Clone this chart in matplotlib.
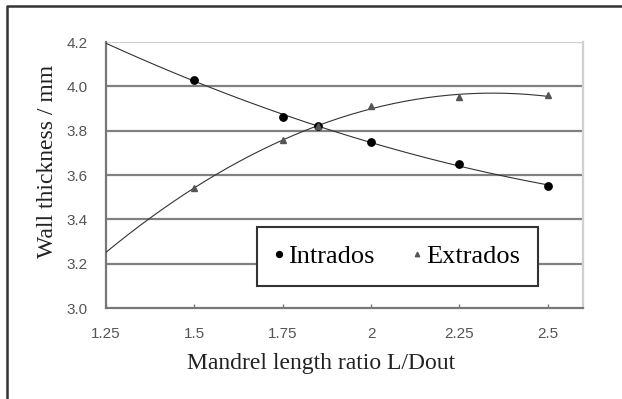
import numpy as np
import matplotlib.pyplot as plt
from matplotlib.lines import Line2D

# measured wall thickness vs mandrel length ratio
ratio = [1.5, 1.75, 1.85, 2.0, 2.25, 2.5]
intrados = [4.03, 3.86, 3.82, 3.75, 3.65, 3.55]
extrados = [3.54, 3.76, 3.82, 3.91, 3.95, 3.96]

x_ticks = [1.25, 1.5, 1.75, 2.0, 2.25, 2.5]
x_ticklabels = ["1.25", "1.5", "1.75", "2", "2.25", "2.5"]
y_ticks = [3.0, 3.2, 3.4, 3.6, 3.8, 4.0, 4.2]

fig = plt.figure(figsize=(6.22, 3.99), dpi=100)
ax = fig.add_axes([106 / 622, 91 / 399, 477 / 622, 266 / 399])

# 2nd order trend lines
xs = np.linspace(1.25, 2.5, 200)
fit_in = np.polyval(np.polyfit(ratio, intrados, 2), xs)
fit_ex = np.polyval(np.polyfit(ratio, extrados, 2), xs)
ax.plot(xs, fit_in, color="#333333", lw=0.8, zorder=3)
ax.plot(xs, fit_ex, color="#333333", lw=0.8, zorder=3)

ax.plot(ratio, intrados, "o", color="black", ms=5.3, label="Intrados", zorder=4)
ax.plot(ratio, extrados, "^", color="#555555", ms=4, label="Extrados", zorder=4)

ax.set_xlim(1.25, 2.6)
ax.set_ylim(3.0, 4.2)
ax.set_xticks(x_ticks)
ax.set_xticklabels(x_ticklabels)
ax.set_yticks(y_ticks)
ax.set_yticklabels(["%.1f" % v for v in y_ticks])

# gridlines
for v in y_ticks[1:-1]:
    ax.axhline(v, color="#808080", lw=1.6, zorder=1)
ax.axhline(4.2, color="#d0d0d0", lw=1.6, zorder=1)

for s in ["left", "bottom"]:
    ax.spines[s].set_color("#777777")
    ax.spines[s].set_linewidth(1.6)
ax.spines["top"].set_visible(False)
ax.spines["right"].set_color("#d0d0d0")
ax.spines["right"].set_linewidth(1.6)

ax.tick_params(axis="x", direction="in", length=3, width=1, color="#777777",
               labelsize=11, labelcolor="#555555", pad=14)
ax.tick_params(axis="y", length=0, labelsize=11, labelcolor="#555555", pad=13)
for lab in ax.get_xticklabels() + ax.get_yticklabels():
    lab.set_family("Liberation Sans")

ax.set_xlabel("Mandrel length ratio L/Dout", family="Liberation Serif",
              fontsize=17, color="#222222")
ax.xaxis.set_label_coords(0.45, -0.17)
ax.set_ylabel("Wall thickness / mm", family="Liberation Serif",
              fontsize=17, color="#222222")
ax.yaxis.set_label_coords(-0.101, 0.55)

leg = ax.legend(ncol=2, loc="upper left", bbox_to_anchor=(0.3166, 0.3045),
                frameon=True, fancybox=False, prop={"family": "Liberation Serif", "size": 19},
                handletextpad=0.2, columnspacing=1.45, handlelength=0.3,
                borderpad=0.68, borderaxespad=0, markerscale=0.8)
leg.get_frame().set_edgecolor("#333333")
leg.get_frame().set_linewidth(1.5)
leg.get_frame().set_facecolor("white")
leg.get_frame().set_alpha(1)
leg.set_zorder(5)

# outer frame (top and left edges)
fig.add_artist(Line2D([7 / 622, 7 / 622, 1.0], [0.0, 1 - 6 / 399, 1 - 6 / 399],
                      transform=fig.transFigure, color="#333333", lw=1.8))

fig.savefig("out.png", dpi=100)
